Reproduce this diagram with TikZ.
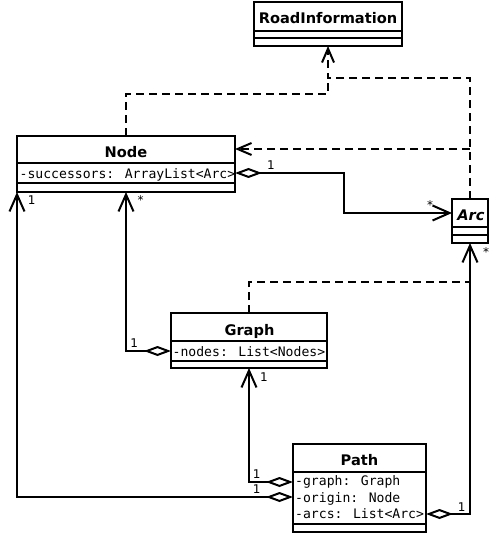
\documentclass[tikz,border=0pt]{standalone}
\usepackage{fontspec}
\setmainfont{DejaVu Sans}
\newfontfamily\monof{DejaVu Sans Mono}
\usetikzlibrary{arrows.meta}
\begin{document}
\begin{tikzpicture}[x=1pt,y=-1pt,
  box/.style={draw,line width=2pt,inner sep=0pt,outer sep=0pt,anchor=north west},
  divider/.style={line width=2pt},
  ttl/.style={font=\fontsize{14.6}{16}\selectfont\bfseries,inner sep=0pt,anchor=base},
  attr/.style={font=\monof\fontsize{13.1}{15}\selectfont,inner sep=0pt,anchor=base west},
  mult/.style={font=\fontsize{12}{13}\selectfont,inner sep=0pt,anchor=base},
  aggr/.style={line width=2pt,
    {Diamond[open,fill=white,length=27pt,width=10pt]}-{Straight Barb[length=17pt,width=15pt]}},
  dep/.style={line width=2pt,dash pattern=on 8pt off 5pt,
    -{Straight Barb[length=14pt,width=12pt]}},
  depline/.style={line width=2pt,dash pattern=on 8pt off 5pt},
]
\useasboundingbox (0,0) rectangle (490,534);

% ---------- classes ----------
\node[box,minimum width=148pt,minimum height=44pt] (road) at (254,2) {};
\draw[divider] (254,31) -- (402,31);
\draw[divider] (254,38) -- (402,38);
\node[ttl] (roadT) at (328,24) {RoadInformation};

\node[box,minimum width=218pt,minimum height=56pt] (nodec) at (17,136) {};
\draw[divider] (17,163) -- (235,163);
\draw[divider] (17,183) -- (235,183);
\node[ttl] (nodeT) at (126,157.7) {Node};
\node[attr] (nodeA) at (19.5,178.7) {-successors: ArrayList<Arc>};

\node[box,minimum width=36pt,minimum height=44pt] (arc) at (452,199) {};
\draw[divider] (452,227) -- (488,227);
\draw[divider] (452,235) -- (488,235);
\node[ttl,font=\fontsize{14.6}{16}\selectfont\bfseries\itshape] (arcT) at (471,220.7) {Arc};

\node[box,minimum width=156pt,minimum height=55pt] (graph) at (171,313) {};
\draw[divider] (171,341) -- (327,341);
\draw[divider] (171,361) -- (327,361);
\node[ttl] (graphT) at (249.5,335.7) {Graph};
\node[attr] (graphA) at (172.5,356) {-nodes: List<Nodes>};

\node[box,minimum width=133pt,minimum height=88pt] (path) at (293,444) {};
\draw[divider] (293,472) -- (426,472);
\draw[divider] (293,524) -- (426,524);
\node[ttl] (pathT) at (359.5,465) {Path};
\node[attr] (pathA1) at (295,485.7) {-graph: Graph};
\node[attr] (pathA2) at (295,502.3) {-origin: Node};
\node[attr] (pathA3) at (295,518.5) {-arcs: List<Arc>};

% ---------- ports ----------
\coordinate (nSucc) at (235,173);
\coordinate (arcIn) at (452,213);
\coordinate (gNodes) at (171,351);
\coordinate (pGraph) at (293,482);
\coordinate (pOrigin) at (293,497);
\coordinate (pArcs) at (426,514);
\coordinate (j1) at (470,149);
\coordinate (j2) at (328,78);
\coordinate (j3) at (470,282);
\coordinate (nodeIn) at (235,149);

% ---------- associations ----------
\draw[aggr] (nSucc) -- (344,173) -- (344,213) -- (arcIn);
\draw[aggr] (gNodes) -- (126,351) -- (nodec.south);
\draw[aggr] (pGraph) -- (249,482) -- (graph.south);
\draw[aggr] (pOrigin) -- (17,497) -- (nodec.south west);
\draw[aggr] (pArcs) -- (470,514) -- (arc.south);

% ---------- dependencies ----------
\draw[dep] (arc.north) -- (j1) -- (470,78) -- (j2) -- (road.south);
\draw[dep] (j1) -- (nodeIn);
\draw[depline] (nodec.north) -- (126,94) -- (328,94) -- (j2);
\draw[depline] (graph.north) -- (249,282) -- (j3);

% ---------- multiplicities ----------
\node[mult] (m1) at (271,170) {1};
\node[mult] (m2) at (430,210) {*};
\node[mult] (m3) at (31.7,205) {1};
\node[mult] (m4) at (140.7,205) {*};
\node[mult] (m5) at (134.3,347) {1};
\node[mult] (m6) at (264,381) {1};
\node[mult] (m7) at (256.7,478.5) {1};
\node[mult] (m8) at (256.7,493.5) {1};
\node[mult] (m9) at (461.7,511) {1};
\node[mult] (m10) at (486,256) {*};
\end{tikzpicture}
\end{document}
